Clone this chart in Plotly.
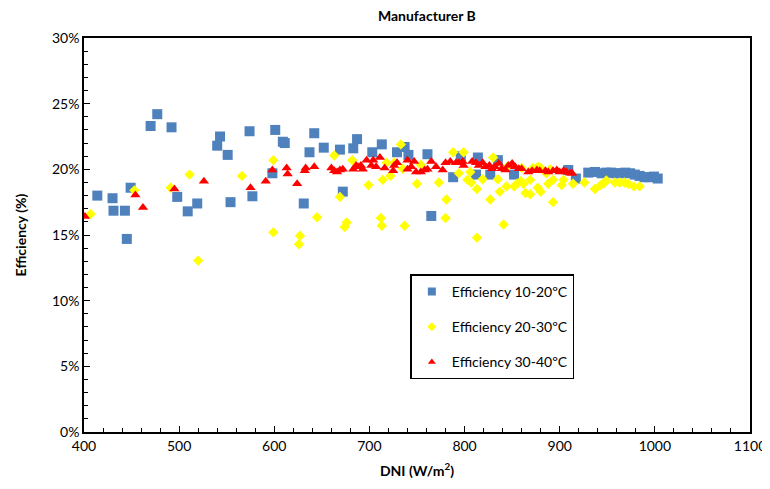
import plotly.graph_objects as go

# ---- data (DNI W/m², efficiency %) ----
blue_x = [414, 430, 431, 443, 445, 449, 470, 477, 492, 498, 509, 519, 540, 543, 551, 554,
          574, 577, 598, 601, 609, 611, 631, 637, 642, 652, 669, 672, 683, 687, 703, 713,
          729, 737, 741, 761, 765, 788, 796, 812, 814, 827, 835, 852, 909, 917, 930, 937,
          944, 949, 954, 959, 964, 969, 974, 979, 984, 989, 994, 999, 1003]
blue_y = [18.0, 17.8, 16.85, 16.85, 14.7, 18.6, 23.3, 24.2, 23.2, 17.9, 16.8, 17.4, 21.8, 22.5, 21.1, 17.5,
          22.9, 17.95, 19.7, 23.0, 22.1, 22.0, 17.4, 21.3, 22.75, 21.65, 21.5, 18.3, 21.6, 22.3, 21.3, 21.9,
          21.3, 21.7, 21.1, 21.15, 16.45, 19.4, 21.0, 19.6, 20.9, 19.6, 20.7, 19.6, 19.95, 19.3, 19.75, 19.8,
          19.7, 19.75, 19.75, 19.7, 19.7, 19.75, 19.7, 19.6, 19.5, 19.4, 19.4, 19.45, 19.3]

yellow_x = [407, 453, 491, 511, 520, 566, 599, 599, 627, 626, 645, 663, 669, 676, 674, 682,
            699, 712, 713, 714, 718, 722, 726, 733, 735, 737, 750, 754, 773, 781, 780, 788,
            794, 799, 803, 806, 807, 813, 813, 819, 827, 830, 835, 837, 841, 844, 852, 855,
            859, 862, 864, 869, 869, 872, 877, 877, 880, 880, 886, 888, 893, 893, 902, 904,
            914, 926, 937, 943, 946, 949, 958, 963, 968, 972, 978, 984, 845, 860, 890]
yellow_y = [16.6, 18.4, 18.6, 19.6, 13.05, 19.5, 20.7, 15.2, 14.95, 14.3, 16.35, 21.05, 17.9, 15.95, 15.6, 20.7,
            18.8, 16.3, 15.7, 19.2, 20.5, 19.5, 20.5, 21.9, 20.05, 15.7, 18.9, 20.35, 19.0, 17.7, 16.3, 21.3,
            19.7, 21.3, 19.2, 19.8, 19.0, 18.5, 14.8, 19.25, 17.7, 20.9, 19.25, 18.3, 15.8, 18.7, 18.7, 18.9,
            19.1, 18.9, 18.2, 18.1, 19.2, 20.1, 20.2, 18.6, 20.1, 18.3, 19.7, 18.9, 17.5, 19.2, 18.8, 19.2,
            18.9, 19.0, 18.5, 18.8, 18.9, 19.15, 19.0, 19.0, 19.0, 18.9, 18.7, 18.7, 20.2, 20.1, 20.0]

red_x = [401, 454, 462, 495, 526, 575, 591, 598, 613, 614, 624, 632, 633, 642, 660, 663,
         666, 669, 672, 683, 686, 688, 691, 693, 697, 702, 704, 707, 711, 716, 725, 726,
         729, 740, 740, 744, 747, 749, 754, 758, 761, 765, 770, 777, 780, 785, 791, 794,
         798, 799, 808, 812, 815, 819, 822, 826, 829, 832, 836, 839, 843, 846, 850, 853,
         857, 860, 867, 871, 876, 879, 885, 888, 893, 897, 900, 904, 907, 911, 913]
red_y = [16.4, 18.05, 17.1, 18.5, 19.1, 18.6, 19.1, 19.95, 20.1, 19.65, 18.9, 19.9, 20.1, 20.2, 20.1, 19.9,
         19.8, 19.95, 20.0, 20.0, 20.3, 20.2, 20.3, 20.0, 20.7, 20.3, 20.7, 20.2, 20.9, 20.1, 19.9, 20.3,
         20.5, 20.7, 20.0, 20.2, 20.6, 19.8, 19.8, 19.95, 20.0, 20.6, 20.2, 19.95, 20.5, 20.6, 20.5, 20.5,
         20.6, 20.3, 20.6, 20.5, 20.3, 20.5, 20.2, 20.3, 20.05, 20.2, 20.45, 20.05, 19.95, 20.3, 20.45, 20.2,
         20.05, 20.05, 19.8, 19.9, 19.95, 19.9, 19.9, 19.8, 19.9, 19.95, 19.8, 19.9, 19.8, 19.7, 19.7]

series_names = ["Efficiency 10-20ºC", "Efficiency 20-30ºC", "Efficiency 30-40ºC"]
x_ticks = [400, 500, 600, 700, 800, 900, 1000, 1100]
y_ticks = [0, 5, 10, 15, 20, 25, 30]

FONT = "Lato"
COLORS = ["#4F81BD", "#FFFF00", "#FF0000"]
SYMBOLS = ["square", "diamond", "triangle-up"]
SIZES = [10, 8, 9]
LEG_SIZES = [8, 7, 7]

fig = go.Figure()
for xs, ys, name, c, s, sz in zip([blue_x, yellow_x, red_x], [blue_y, yellow_y, red_y],
                                  series_names, COLORS, SYMBOLS, SIZES):
    fig.add_trace(go.Scatter(x=xs, y=ys, mode="markers", name=name, showlegend=False,
                             marker=dict(symbol=s, size=sz, color=c)))
# legend entries (smaller markers, as in the reference legend)
for i, (name, c, s, sz) in enumerate(zip(series_names, COLORS, SYMBOLS, LEG_SIZES)):
    fig.add_trace(go.Scatter(x=[None], y=[None], mode="markers", name=name,
                             legendgroup=f"g{i}", showlegend=True,
                             marker=dict(symbol=s, size=sz, color=c)))

axis_common = dict(showgrid=False, zeroline=False, showline=True, linecolor="black",
                   linewidth=1.5, mirror=True, ticks="inside", ticklen=6, tickwidth=1,
                   tickcolor="black", tickfont=dict(family=FONT, size=14, color="black"))

fig.update_xaxes(range=[400, 1100], tickvals=x_ticks, ticktext=[str(v) for v in x_ticks],
                 minor=dict(ticks="inside", ticklen=4, dtick=20, tickcolor="black"),
                 title=dict(text="<b>DNI (W/m<sup>2</sup>)</b>", font=dict(family=FONT, size=14, color="black"),
                            standoff=14),
                 **axis_common)
fig.update_yaxes(range=[0, 30], tickvals=y_ticks, ticktext=[f"{v}%" for v in y_ticks],
                 minor=dict(ticks="inside", ticklen=4, dtick=1, tickcolor="black"),
                 title=dict(text="<b>Efficiency (%)</b>", font=dict(family=FONT, size=14, color="black"),
                            standoff=22),
                 **axis_common)

fig.update_layout(
    width=770, height=489,
    margin=dict(l=76, r=24, t=30, b=65),
    paper_bgcolor="white", plot_bgcolor="white",
    title=dict(text="<b>Manufacturer B</b>", x=0.544, xanchor="center", y=1.0, yanchor="top",
               pad=dict(t=3, b=0, l=0, r=0),
               font=dict(family=FONT, size=14, color="black")),
    legend=dict(x=0.49, y=0.40, xanchor="left", yanchor="top", bgcolor="white",
                bordercolor="black", borderwidth=1.5, traceorder="grouped", tracegroupgap=14,
                font=dict(family=FONT, size=14, color="black")),
    showlegend=True,
)

fig.write_html("out.html")
